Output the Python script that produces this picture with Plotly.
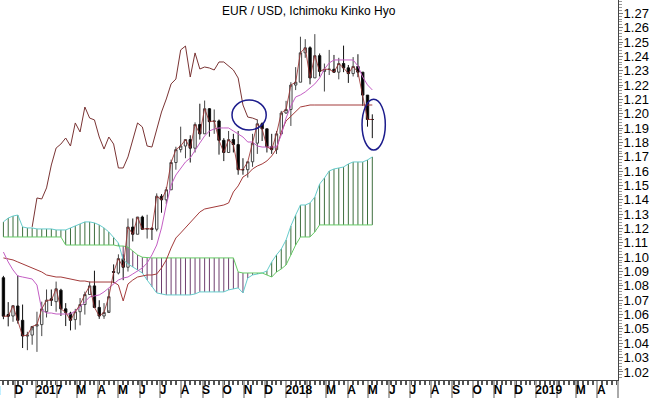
import plotly.graph_objects as go
import pandas as pd

# ---------------- data (weekly, Monday dates) ----------------
week_start = "2016-11-14"
n_weeks = 78
dates = pd.date_range(week_start, periods=n_weeks, freq="7D")

opens = [1.0857,1.0600,1.0590,1.0660,1.0560,1.0450,1.0457,1.0520,1.0530,1.0620,
         1.0710,1.0690,1.0770,1.0640,1.0610,1.0565,1.0620,1.0670,1.0740,1.0800,
         1.0650,1.0590,1.0615,1.0900,1.0890,1.0990,1.0930,1.1210,1.1160,1.1280,
         1.1195,1.1200,1.1195,1.1425,1.1400,1.1470,1.1660,1.1750,1.1775,1.1820,
         1.1760,1.1925,1.1860,1.2035,1.1945,1.1950,1.1815,1.1730,1.1820,1.1785,
         1.1610,1.1610,1.1665,1.1795,1.1930,1.1895,1.1770,1.1750,1.1860,1.2005,
         1.2030,1.2200,1.2220,1.2425,1.2460,1.2250,1.2405,1.2295,1.2310,1.2310,
         1.2290,1.2350,1.2320,1.2280,1.2330,1.2290,1.2130,1.1960]
highs = [1.0870,1.0687,1.0667,1.0874,1.0670,1.0480,1.0490,1.0620,1.0690,1.0775,
         1.0775,1.0830,1.0780,1.0680,1.0620,1.0640,1.0715,1.0760,1.0830,1.0906,
         1.0700,1.0680,1.0780,1.0950,1.1020,1.1020,1.1270,1.1270,1.1280,1.1290,
         1.1296,1.1210,1.1445,1.1440,1.1490,1.1680,1.1770,1.1910,1.1820,1.1850,
         1.1940,1.2070,1.2092,1.2040,1.2030,1.1960,1.1830,1.1880,1.1860,1.1880,
         1.1690,1.1660,1.1860,1.1960,1.1940,1.1895,1.1860,1.1880,1.2020,1.2090,
         1.2220,1.2325,1.2537,1.2520,1.2470,1.2555,1.2420,1.2350,1.2445,1.2410,
         1.2390,1.2475,1.2340,1.2395,1.2415,1.2290,1.2130,1.1996]
lows = [1.0568,1.0518,1.0550,1.0537,1.0367,1.0352,1.0390,1.0340,1.0450,1.0580,
        1.0660,1.0620,1.0590,1.0520,1.0490,1.0495,1.0525,1.0600,1.0740,1.0650,
        1.0570,1.0570,1.0630,1.0820,1.0880,1.0840,1.0900,1.1110,1.1160,1.1190,
        1.1130,1.1120,1.1180,1.1310,1.1370,1.1470,1.1610,1.1730,1.1690,1.1660,
        1.1730,1.1820,1.1860,1.1840,1.1860,1.1715,1.1670,1.1730,1.1730,1.1575,
        1.1575,1.1555,1.1630,1.1720,1.1810,1.1730,1.1720,1.1720,1.1860,1.2000,
        1.1915,1.2165,1.2220,1.2390,1.2205,1.2250,1.2260,1.2155,1.2270,1.2285,
        1.2240,1.2290,1.2215,1.2260,1.2255,1.2055,1.1910,1.1830]
closes = [1.0589,1.0588,1.0662,1.0560,1.0451,1.0457,1.0517,1.0530,1.0640,1.0700,
          1.0700,1.0780,1.0640,1.0615,1.0560,1.0620,1.0670,1.0740,1.0800,1.0650,
          1.0590,1.0615,1.0725,1.0895,1.0990,1.0930,1.1210,1.1160,1.1280,1.1195,
          1.1200,1.1195,1.1425,1.1400,1.1470,1.1660,1.1750,1.1775,1.1820,1.1760,
          1.1925,1.1860,1.2035,1.1945,1.1950,1.1815,1.1730,1.1820,1.1785,1.1610,
          1.1610,1.1665,1.1795,1.1930,1.1895,1.1770,1.1750,1.1860,1.2005,1.2030,
          1.2200,1.2220,1.2425,1.2460,1.2250,1.2405,1.2295,1.2310,1.2310,1.2290,
          1.2350,1.2320,1.2280,1.2330,1.2290,1.2130,1.1960,1.1960]

tenkan = [1.1036,1.0967,1.0911,1.0869,1.0862,1.0855,1.0848,1.0806,1.0632,1.0611,
          1.0611,1.0604,1.0604,1.0604,1.0604,1.0625,1.0653,1.0688,1.0723,1.0730,
          1.0737,1.0758,1.0786,1.0813,1.0841,1.0855,1.0862,1.0883,1.0904,1.0925,
          1.0960,1.1016,1.1085,1.1204,1.1364,1.1503,1.1573,1.1622,1.1664,1.1692,
          1.1748,1.1796,1.1845,1.1880,1.1894,1.1901,1.1901,1.1901,1.1880,1.1859,
          1.1838,1.1803,1.1803,1.1775,1.1768,1.1768,1.1768,1.1768,1.1852,1.1970,
          1.2054,1.2117,1.2131,1.2152,1.2180,1.2208,1.2249,1.2312,1.2354,1.2375,
          1.2375,1.2375,1.2375,1.2375,1.2333,1.2256,1.2201,1.2166]
kijun = [1.0995,1.0988,1.0981,1.0967,1.0953,1.0939,1.0925,1.0911,1.0897,1.0876,
         1.0869,1.0862,1.0862,1.0855,1.0848,1.0841,1.0834,1.0834,1.0827,1.0827,
         1.0827,1.0827,1.0827,1.0827,1.0806,1.0695,1.0813,1.0841,1.0862,1.0869,
         1.0876,1.0876,1.0883,1.0925,1.0981,1.1064,1.1134,1.1169,1.1204,1.1239,
         1.1280,1.1315,1.1336,1.1343,1.1350,1.1357,1.1364,1.1378,1.1455,1.1497,
         1.1559,1.1580,1.1615,1.1636,1.1650,1.1671,1.1706,1.1754,1.1873,1.1950,
         1.1984,1.2019,1.2047,1.2054,1.2061,1.2061,1.2061,1.2061,1.2061,1.2061,
         1.2061,1.2061,1.2061,1.2061,1.2061,1.2061,1.2061,1.2061]
senkou_a = [1.1246,1.1273,1.1287,1.1294,1.1211,1.1204,1.1204,1.1197,1.1197,1.1197,
            1.1197,1.1190,1.1190,1.1190,1.1204,1.1218,1.1232,1.1246,1.1246,1.1239,
            1.1225,1.1204,1.1176,1.1141,1.1099,1.0981,1.0953,1.0932,1.0911,1.0890,
            1.0841,1.0793,1.0751,1.0744,1.0737,1.0737,1.0737,1.0737,1.0737,1.0737,
            1.0744,1.0758,1.0758,1.0758,1.0758,1.0758,1.0758,1.0772,1.0779,1.0786,
            1.0751,1.0855,1.0876,1.0883,1.0890,1.0904,1.0967,1.1016,1.1057,1.1120,
            1.1218,1.1294,1.1364,1.1364,1.1378,1.1420,1.1510,1.1552,1.1601,1.1615,
            1.1622,1.1629,1.1650,1.1664,1.1664,1.1664,1.1678,1.1699]
senkou_b = [1.1141]*13 + [1.1085]*11 + [1.1078,1.1078,1.1071,1.1043,1.1016,1.1000] \
           + [1.0995]*19 + [1.0897] + [1.0890]*5 \
           + [1.0876,1.0862,1.0897,1.0918,1.0946,1.1016,1.1085] \
           + [1.1141]*3 + [1.1176] + [1.1225]*12
chikou = [None]*6 + [1.1211,1.1413,1.1406,1.1483,1.1643,1.1761,1.1789,1.1831,1.1775,1.1936,
                     1.1873,1.2047,1.1970,1.1957,1.1838,1.1754,1.1838,1.1789,1.1622,1.1622,
                     1.1699,1.1817,1.1936,1.1908,1.1775,1.1768,1.1887,1.2012,1.2103,1.2208,
                     1.2242,1.2445,1.2472,1.2256,1.2424,1.2312,1.2326,1.2319,1.2305,1.2361,
                     1.2361,1.2333,1.2305,1.2249,1.2061,1.1977,1.1970,1.1957] + [None]*24

month_ticks = pd.date_range("2016-12-01", "2019-05-01", freq="MS")
month_labels = ["D", "2017", "", "M", "A", "M", "J", "J", "A", "S", "O", "N", "D",
                "2018", "", "M", "A", "M", "J", "J", "A", "S", "O", "N", "D",
                "2019", "", "M", "A", ""]
first_month_label = "N"

title_text = "EUR / USD, Ichimoku Kinko Hyo"

# highlighted zones (date range, price range)
ellipses = [(("2017-10-14", "2017-12-03"), (1.1887, 1.2096)),
            (("2018-04-22", "2018-05-26"), (1.1747, 1.2101))]

FONT = "Arial, Liberation Sans, sans-serif"

fig = go.Figure()

# cloud hatching
hx_g, hy_g, hx_p, hy_p = [], [], [], []
for d, a, b in zip(dates, senkou_a, senkou_b):
    if a >= b:
        hx_g += [d, d, None]; hy_g += [a, b, None]
    else:
        hx_p += [d, d, None]; hy_p += [a, b, None]
fig.add_trace(go.Scatter(x=hx_g, y=hy_g, mode="lines", line=dict(color="#3f6f3f", width=1),
                         hoverinfo="skip"))
fig.add_trace(go.Scatter(x=hx_p, y=hy_p, mode="lines", line=dict(color="#6f3f6f", width=1),
                         hoverinfo="skip"))
fig.add_trace(go.Scatter(x=dates, y=senkou_a, mode="lines", line=dict(color="#66cccc", width=1)))
fig.add_trace(go.Scatter(x=dates, y=senkou_b, mode="lines", line=dict(color="#66cc66", width=1)))
fig.add_trace(go.Scatter(x=dates, y=kijun, mode="lines", line=dict(color="#a33a3a", width=1)))
fig.add_trace(go.Scatter(x=dates, y=tenkan, mode="lines", line=dict(color="#c45ec4", width=1)))
fig.add_trace(go.Scatter(x=dates, y=chikou, mode="lines", line=dict(color="#7a3434", width=1)))

fig.add_trace(go.Candlestick(
    x=dates, open=opens, high=highs, low=lows, close=closes,
    increasing=dict(line=dict(color="#444444", width=1), fillcolor="white"),
    decreasing=dict(line=dict(color="#111111", width=1), fillcolor="black"),
    whiskerwidth=0,
))
# thin close line drawn through the candles
fig.add_trace(go.Scatter(x=dates, y=closes, mode="lines",
                         line=dict(color="#9a3030", width=1), opacity=0.85))

for (x0, x1), (y0, y1) in ellipses:
    fig.add_shape(type="circle", xref="x", yref="y", x0=x0, x1=x1, y0=y0, y1=y1,
                  line=dict(color="#1c1c8c", width=1.5))

fig.add_annotation(x=0.5, y=1, xref="paper", yref="paper", xanchor="center", yanchor="middle",
                   yshift=-11, text=title_text, showarrow=False,
                   font=dict(family=FONT, size=12, color="black"))

fig.add_annotation(x=0, y=0, xref="paper", yref="paper", yanchor="middle", xanchor="right",
                   yshift=-11, xshift=3, text=first_month_label, showarrow=False,
                   font=dict(family=FONT, size=12, color="black", weight="bold"))

fig.update_layout(
    width=650, height=401,
    margin=dict(l=0, r=32, t=0, b=21),
    paper_bgcolor="white", plot_bgcolor="white",
    showlegend=False,
    xaxis=dict(
        type="date", range=["2016-11-09", "2019-05-01"],
        rangeslider=dict(visible=False),
        showgrid=False, zeroline=False,
        showline=True, linecolor="#444444", linewidth=1,
        tickvals=month_ticks, ticktext=month_labels, tickangle=0,
        ticks="outside", ticklen=17, tickwidth=2, tickcolor="#aaaaaa",
        ticklabelposition="outside right", ticklabelstandoff=-1, ticklabelshift=-2,
        tickfont=dict(family=FONT, size=12, color="black", weight="bold"),
        minor=dict(ticks="outside", ticklen=4, tickcolor="#555555",
                   dtick=7 * 86400000, tick0="2016-11-14", showgrid=False),
    ),
    yaxis=dict(
        side="right", range=[1.0144, 1.2793],
        dtick=0.01, tick0=1.0, tickformat=".2f", tickangle=0,
        showgrid=False, zeroline=False,
        showline=True, linecolor="#444444", linewidth=1,
        ticks="outside", ticklen=4, tickcolor="#777777",
        ticklabelstandoff=-2,
        tickfont=dict(family=FONT, size=13, color="black"),
        minor=dict(ticks="outside", ticklen=3, tickcolor="#999999", dtick=0.002, showgrid=False),
    ),
)

fig.write_html("out.html", config={"displayModeBar": False},
               post_script="document.body.style.margin='0';document.body.style.overflow='hidden';")
